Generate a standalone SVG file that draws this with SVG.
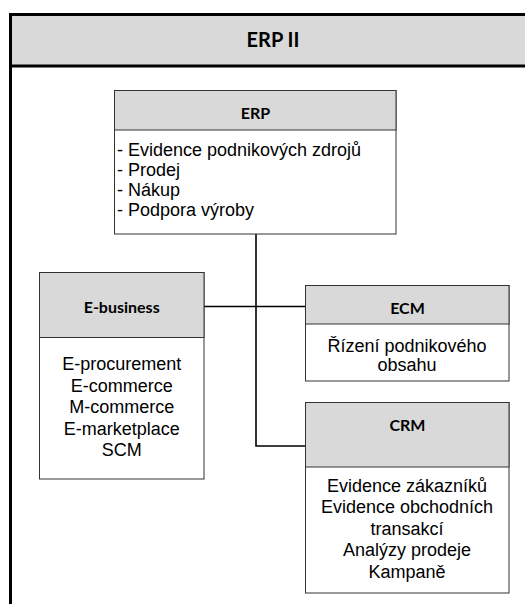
<svg xmlns="http://www.w3.org/2000/svg" width="525" height="604" viewBox="0 0 525 604">
<style>
.hdr{fill:#D9D9D9;stroke:#333;stroke-width:1}
.body{fill:#fff;stroke:#333;stroke-width:1}
.ttl{font-family:Lato,"Liberation Sans",sans-serif;font-weight:bold;font-size:16px;fill:#000;text-anchor:middle}
.txt{font-family:"Liberation Sans",Arial,sans-serif;font-size:18px;fill:#000}
.c{text-anchor:middle}
.conn{fill:none;stroke:#000;stroke-width:1.6}
</style>
<rect x="0" y="0" width="525" height="604" fill="#fff"/>
<g id="frame">
<rect x="10.5" y="14.5" width="530" height="600" fill="#fff" stroke="#000" stroke-width="3"/>
<rect x="10.5" y="14.5" width="530" height="51.5" fill="#D9D9D9" stroke="#000" stroke-width="3"/>
<text class="ttl" x="273" y="47" style="font-size:20px">ERP II</text>
</g>
<g id="connectors">
<path class="conn" d="M256 234 V446 H305"/>
<path class="conn" d="M204 306.5 H305"/>
</g>
<g id="erp">
<rect class="body" x="114.5" y="90.5" width="281.5" height="143.5"/>
<rect class="hdr" x="114.5" y="90.5" width="281.5" height="39.5"/>
<text class="ttl" x="255.5" y="119">ERP</text>
<text class="txt" x="117" y="156">- Evidence podnikových zdrojů</text>
<text class="txt" x="117" y="176">- Prodej</text>
<text class="txt" x="117" y="196">- Nákup</text>
<text class="txt" x="117" y="216">- Podpora výroby</text>
</g>
<g id="ebusiness">
<rect class="body" x="39.5" y="272.5" width="164.5" height="206.5"/>
<rect class="hdr" x="39.5" y="272.5" width="164.5" height="65"/>
<text class="ttl" x="121.7" y="313">E-business</text>
<text class="txt c" x="121.7" y="370">E-procurement</text>
<text class="txt c" x="121.7" y="391.5">E-commerce</text>
<text class="txt c" x="121.7" y="413">M-commerce</text>
<text class="txt c" x="121.7" y="434.5">E-marketplace</text>
<text class="txt c" x="121.7" y="456">SCM</text>
</g>
<g id="ecm">
<rect class="body" x="305.5" y="285.5" width="203.5" height="95.5"/>
<rect class="hdr" x="305.5" y="285.5" width="203.5" height="38.5"/>
<text class="ttl" x="407.5" y="314">ECM</text>
<text class="txt c" x="407" y="351.5">Řízení podnikového</text>
<text class="txt c" x="407" y="370.5">obsahu</text>
</g>
<g id="crm">
<rect class="body" x="305.5" y="402.5" width="203.5" height="190.5"/>
<rect class="hdr" x="305.5" y="402.5" width="203.5" height="64.5"/>
<text class="ttl" x="407.5" y="431">CRM</text>
<text class="txt c" x="407" y="491.5">Evidence zákazníků</text>
<text class="txt c" x="407" y="513">Evidence obchodních</text>
<text class="txt c" x="407" y="534.5">transakcí</text>
<text class="txt c" x="407" y="556">Analýzy prodeje</text>
<text class="txt c" x="407" y="577.5">Kampaně</text>
</g>
</svg>
